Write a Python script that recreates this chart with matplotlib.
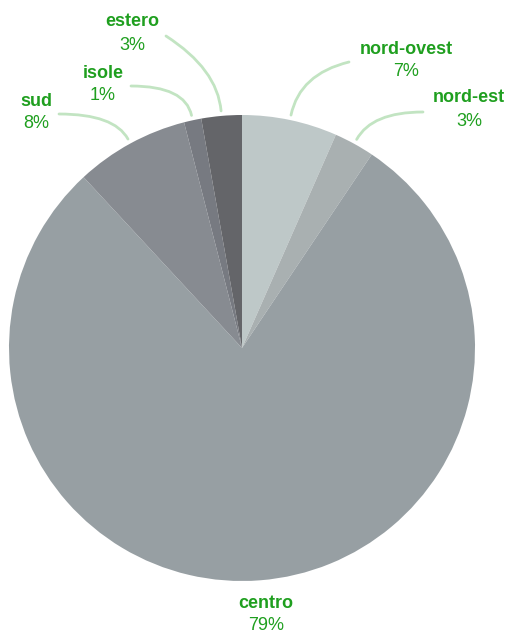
import numpy as np
import matplotlib
matplotlib.use("Agg")
import matplotlib.pyplot as plt
from matplotlib.path import Path
from matplotlib.patches import PathPatch

plt.rcParams['font.family'] = ['Liberation Sans', 'DejaVu Sans']

# Share of respondents by area of origin (percent)
categories = ["nord-ovest", "nord-est", "centro", "sud", "isole", "estero"]
shares = [6.6, 2.8, 78.7, 7.9, 1.2, 2.8]
pct_labels = ["7%", "3%", "79%", "8%", "1%", "3%"]
colors = ["#bec8c8", "#a9b0b1", "#979fa3", "#878b91", "#777a81", "#646569"]

# Label anchors (pixel layout, y measured from the top)
label_pos = {
    "nord-ovest": (406, 49),
    "nord-est": (469, 98),
    "centro": (266, 603),
    "sud": (36, 101),
    "isole": (103, 73),
    "estero": (132, 22),
}
# where each leader line meets its label (None = no leader)
leader_end = {
    "nord-ovest": (349, 62),
    "nord-est": (423, 112),
    "centro": None,
    "sud": (59, 114),
    "isole": (131, 86),
    "estero": (166, 36),
}

W, H = 508, 636
fig = plt.figure(figsize=(W / 100, H / 100), dpi=100)
ax = fig.add_axes([0, 0, 1, 1])

cx, cy, r = 242, H - 348, 233
wedges, _ = ax.pie(shares, colors=colors, startangle=90, counterclock=False,
                   center=(cx, cy), radius=r, frame=True,
                   wedgeprops=dict(linewidth=0))
ax.set_xlim(0, W)
ax.set_ylim(0, H)
ax.set_aspect("equal")
ax.axis("off")

green = "#1f9f1f"
line_col = "#c2e4c2"
for w, name, pct in zip(wedges, categories, pct_labels):
    lx, ly = label_pos[name]
    ax.text(lx, H - ly, name, ha="center", va="center", fontsize=13,
            fontweight="bold", color=green)
    ax.text(lx, H - ly - 23, pct, ha="center", va="center", fontsize=13,
            color=green)
    end = leader_end[name]
    if end is None:
        continue
    mid = np.deg2rad((w.theta1 + w.theta2) / 2)
    ux, uy = np.cos(mid), np.sin(mid)
    sx, sy = cx + (r + 5) * ux, cy + (r + 5) * uy
    ex, ey = end[0], H - end[1]
    d = min(abs(ey - sy) / max(abs(uy), 1e-6), 42)
    c = (sx + d * ux, sy + d * uy)
    path = Path([(sx, sy), c, (ex, ey)], [Path.MOVETO, Path.CURVE3, Path.CURVE3])
    ax.add_patch(PathPatch(path, fill=False, edgecolor=line_col, linewidth=2,
                           capstyle="round"))

fig.savefig("out.png", dpi=100, facecolor="white")
